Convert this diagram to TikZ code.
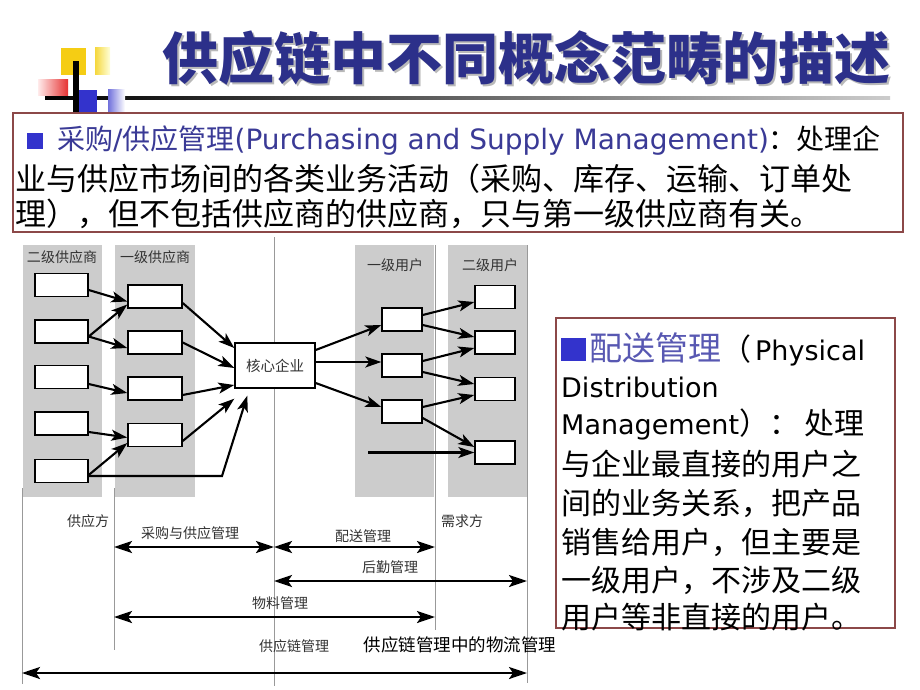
\documentclass[tikz,border=0pt]{standalone}
\usepackage{fontspec}
\setmainfont{DejaVu Sans}
\newfontfamily\cjk{Noto Sans CJK SC}
\newfontfamily\lat{DejaVu Sans}
\usetikzlibrary{arrows.meta}
\definecolor{titleblue}{RGB}{44,48,138}
\definecolor{tblue}{RGB}{58,58,150}
\definecolor{pblue}{RGB}{88,88,178}
\definecolor{bullet}{RGB}{51,51,204}
\definecolor{frame}{RGB}{140,72,72}
\definecolor{colgray}{RGB}{204,204,204}
\definecolor{lbl}{RGB}{50,50,50}
\definecolor{gold}{RGB}{245,205,20}
\definecolor{gold2}{RGB}{245,215,60}
\definecolor{redsq}{RGB}{230,50,50}
\newcommand\setfs[1]{\fontsize{#1}{#1}\selectfont}
\begin{document}
\begin{tikzpicture}[x=1pt,y=-1pt,
  sbox/.style={draw=black, line width=1.4pt, fill=white, minimum height=23pt, inner sep=0pt},
  corebox/.style={draw=black, line width=1.4pt, fill=white, minimum width=80pt, minimum height=45pt, inner sep=0pt, text=lbl},
  flow/.style={line width=2.1pt, -{Stealth[length=16pt,width=11pt,inset=4pt]}},
  spanarrow/.style={line width=2.4pt, {Stealth[length=18pt,width=12pt,inset=4pt]}-{Stealth[length=18pt,width=12pt,inset=4pt]}},
  vline/.style={draw=gray!80, line width=0.7pt},
  lab/.style={inner sep=0pt, text=lbl, font=\setfs{14}\cjk},
  txt/.style={inner sep=0pt, anchor=west}
]
\useasboundingbox (0,0) rectangle (920,690);
\fill[white] (0,0) rectangle (920,690);

% decoration
\fill[left color=black, right color=gray!40] (45,96.5) rectangle (890,99.5);
\fill[gold] (61,48) rectangle (86,75);
\fill[left color=gold2, right color=yellow!15] (95,48) rectangle (110,75);
\fill[left color=red!8, right color=redsq] (38,80) rectangle (68,96);
\fill[bullet] (78,90) rectangle (97,117);
\fill[left color=bullet!70, right color=white] (108,90) rectangle (125,113);
\fill[black] (73,61) rectangle (79,121);

% title
\node[inner sep=0pt, text=gray!55] at (528.5,60.5) {\setfs{56}\cjk\bfseries 供应链中不同概念范畴的描述};
\node[inner sep=0pt, text=titleblue] (title) at (526,58) {\setfs{56}\cjk\bfseries 供应链中不同概念范畴的描述};

% top box
\draw[frame, line width=1.5pt, fill=white] (13,113) rectangle (903,232);
\fill[bullet] (27,133) rectangle (43,149);
\node[txt] (t1) at (57,141) {\setfs{28}{\color{tblue}\cjk 采购{\lat /}供应管理{\lat (Purchasing and Supply Management)}}\cjk ：处理企};
\node[txt] (t2) at (15,179) {\setfs{31}\cjk 业与供应市场间的各类业务活动（采购、库存、运输、订单处};
\node[txt] (t3) at (15,214) {\setfs{31}\cjk 理），但不包括供应商的供应商，只与第一级供应商有关。};

% gray columns
\fill[colgray] (23,245) rectangle (102,497);
\fill[colgray] (115,245) rectangle (195,497);
\fill[colgray] (355,245) rectangle (434,497);
\fill[colgray] (448,245) rectangle (527,497);

% vertical guide lines
\draw[vline] (22,488) -- (22,684);
\draw[vline] (114,488) -- (114,650);
\draw[vline] (274,237) -- (274,686);
\draw[vline] (435,245) -- (435,630);
\draw[vline] (527,245) -- (527,683);

% column headers
\node[lab] (h1) at (62,257) {二级供应商};
\node[lab] (h2) at (155,257) {一级供应商};
\node[lab] (h3) at (395,265) {一级用户};
\node[lab] (h4) at (490,265) {二级用户};

% boxes
\node[sbox, minimum width=53pt] (c11) at (61.5,285) {};
\node[sbox, minimum width=53pt] (c12) at (61.5,331.5) {};
\node[sbox, minimum width=53pt] (c13) at (61.5,377) {};
\node[sbox, minimum width=53pt] (c14) at (61.5,423.5) {};
\node[sbox, minimum width=53pt] (c15) at (61.5,471) {};
\node[sbox, minimum width=54pt] (c21) at (155,296.5) {};
\node[sbox, minimum width=54pt] (c22) at (155,342.5) {};
\node[sbox, minimum width=54pt] (c23) at (155,388.5) {};
\node[sbox, minimum width=54pt] (c24) at (155,435) {};
\node[corebox] (core) at (275,365.5) {\setfs{14.5}\cjk 核心企业};
\node[sbox, minimum width=40pt] (u11) at (402,319.5) {};
\node[sbox, minimum width=40pt] (u12) at (402,365.5) {};
\node[sbox, minimum width=40pt] (u13) at (402,411.5) {};
\node[sbox, minimum width=40pt] (u21) at (495,297) {};
\node[sbox, minimum width=40pt] (u22) at (495,342.5) {};
\node[sbox, minimum width=40pt] (u23) at (495,389) {};
\node[sbox, minimum width=40pt] (u24) at (495,452.5) {};

% left flows
\draw[flow] ([yshift=-5pt]c11.east) -- ([yshift=-5pt]c21.west);
\draw[flow] ([yshift=-5pt]c12.east) -- ([yshift=-8pt]c21.west);
\draw[flow] ([yshift=-5pt]c12.east) -- ([yshift=-5.5pt]c22.west);
\draw[flow] ([yshift=-7pt]c13.east) -- ([yshift=-4.5pt]c23.west);
\draw[flow] ([yshift=-8.5pt]c14.east) -- ([yshift=-2.5pt]c24.west);
\draw[flow] ([yshift=-4pt]c15.east) -- ([yshift=-8pt]c24.west);
\coordinate (bend) at (222,476);
\draw[flow] ([yshift=-5pt]c15.east) -- (bend) -- ([xshift=13pt,yshift=-7pt]core.south west);
\draw[flow] ([yshift=-6.5pt]c21.east) -- ([yshift=17.5pt]core.west);
\draw[flow] (c22.east) -- ([yshift=-2.5pt]core.west);
\draw[flow] ([yshift=-6.5pt]c23.east) -- ([yshift=-19.5pt]core.west);
\draw[flow] ([yshift=-6pt]c24.east) -- ([yshift=-10pt]core.south west);

% right flows
\draw[flow] ([yshift=15.5pt]core.east) -- ([yshift=-5.5pt]u11.west);
\draw[flow] ([yshift=3.5pt]core.east) -- ([yshift=3.5pt]u12.west);
\draw[flow] ([yshift=-17.5pt]core.east) -- ([yshift=4.5pt]u13.west);
\draw[flow] ([yshift=4.5pt]u11.east) -- ([yshift=-5pt]u21.west);
\draw[flow] ([yshift=-5.5pt]u11.east) -- ([yshift=5.5pt]u22.west);
\draw[flow] ([yshift=4.5pt]u12.east) -- ([yshift=-5.5pt]u22.west);
\draw[flow] ([yshift=-6.5pt]u12.east) -- ([yshift=5pt]u23.west);
\draw[flow] ([yshift=4.5pt]u13.east) -- ([yshift=-6pt]u23.west);
\draw[flow] ([yshift=-6.5pt]u13.east) -- ([yshift=5.5pt]u24.west);
\coordinate (free) at (368,452.5);
\draw[flow] (free) -- (u24.west);

% bottom labels
\node[lab] (gys) at (88,521) {供应方};
\node[lab] (xqf) at (462,521) {需求方};
\node[lab] (l1) at (190,533) {采购与供应管理};
\node[lab] (l2) at (363,536) {配送管理};
\node[lab] (l3) at (390,567) {后勤管理};
\node[lab] (l4) at (280,603) {物料管理};
\node[lab] (l5) at (294,646) {供应链管理};

% span arrows
\coordinate (pL) at (114,547);
\coordinate (pM) at (274,547);
\coordinate (pR) at (435,547);
\coordinate (hL) at (274,581);
\coordinate (hR) at (527,581);
\coordinate (mL) at (114,617);
\coordinate (mR) at (435,617);
\coordinate (sL) at (22,673);
\coordinate (sR) at (527,673);
\draw[spanarrow] (pL) -- (pM);
\draw[spanarrow] (pM) -- (pR);
\draw[spanarrow] (hL) -- (hR);
\draw[spanarrow] (mL) -- (mR);
\draw[spanarrow] (sL) -- (sR);

\node[inner sep=0pt] (foot) at (460,645) {\setfs{17.5}\cjk 供应链管理中的物流管理};

% right box
\draw[frame, line width=1.5pt, fill=white] (556,318) rectangle (895,628);
\fill[bullet] (561,338) rectangle (586,361);
\node[txt] (r1) at (589,349) {\setfs{33}{\color{pblue}\cjk 配送管理}{\setfs{30}\cjk （}\hspace{4pt}{\setfs{27}\lat Physical}};
\node[txt] (r2) at (561,387) {\setfs{27}\lat Distribution};
\node[txt] (r3) at (561,424) {\setfs{27}\lat Management{\setfs{30}\cjk ）：}\hspace{5pt}{\setfs{30}\cjk 处理}};
\node[txt] (r4) at (561,464) {\setfs{30}\cjk 与企业最直接的用户之};
\node[txt] (r5) at (561,503) {\setfs{30}\cjk 间的业务关系，把产品};
\node[txt] (r6) at (561,542) {\setfs{30}\cjk 销售给用户，但主要是};
\node[txt] (r7) at (561,580) {\setfs{30}\cjk 一级用户，不涉及二级};
\node[txt] (r8) at (561,617) {\setfs{30}\cjk 用户等非直接的用户。};
\end{tikzpicture}
\end{document}
